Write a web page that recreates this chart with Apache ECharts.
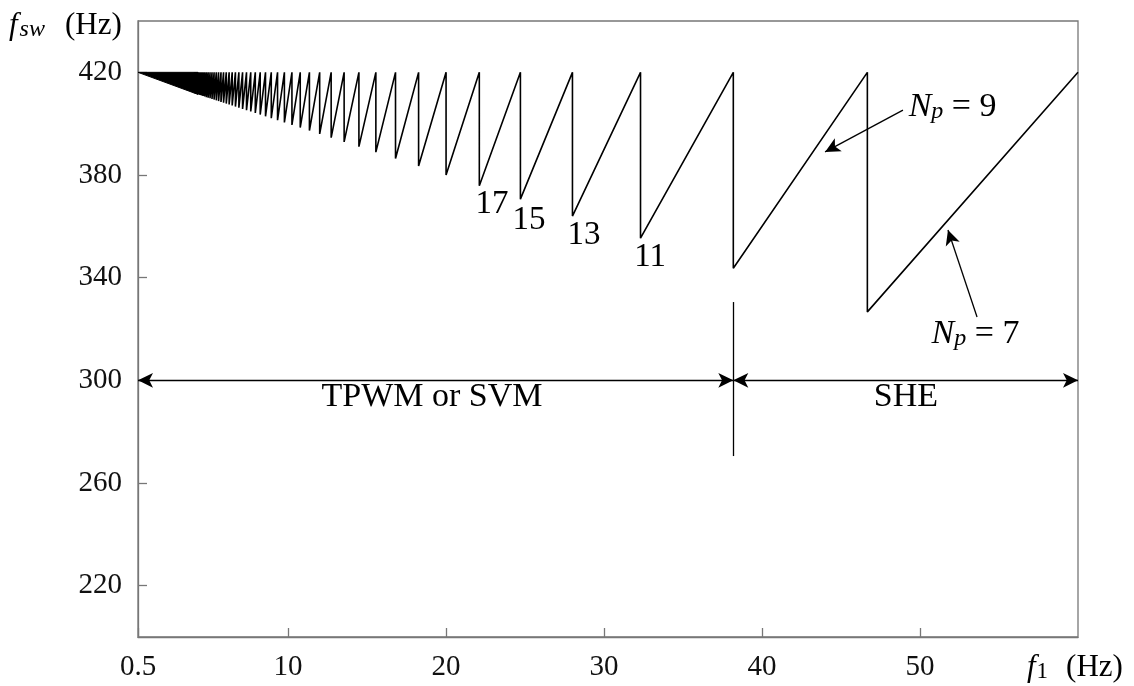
<!DOCTYPE html>
<html><head><meta charset="utf-8">
<script src="https://cdn.jsdelivr.net/npm/echarts@6/dist/echarts.min.js"></script>
<style>html,body{margin:0;padding:0;background:#fff}#c{width:1134px;height:686px}</style>
</head><body><div id="c"></div>
<script>
// ---- data ----
const xTicks = [0.5, 10, 20, 30, 40, 50];
const yTicks = [220, 260, 300, 340, 380, 420];
const fswMax = 420;
// f1 values where the pulse number changes (Np = 101 ... 7)
const switchF1 = [4.078,4.158,4.242,4.330,4.421,4.516,4.615,4.719,4.828,4.941,5.060,5.185,5.316,5.455,5.600,5.753,5.915,6.087,6.269,6.462,6.667,6.885,7.119,7.368,7.636,7.925,8.235,8.571,8.936,9.333,9.767,10.244,10.769,11.351,12.000,12.727,13.548,14.483,15.556,16.800,18.261,20.000,22.105,24.706,28.000,32.308,38.182,46.667,60.000];
// f_sw at the bottom of each tooth
const valleyFsw = [411.84,411.68,411.52,411.34,411.16,410.97,410.77,410.56,410.34,410.12,409.88,409.63,409.37,409.09,408.80,408.49,408.17,407.83,407.46,407.08,406.67,406.23,405.76,405.26,404.73,404.15,403.53,402.86,402.13,401.33,400.47,399.51,398.46,397.30,396.00,394.55,392.90,391.03,388.89,386.40,383.48,380.00,375.79,370.59,364.00,355.38,343.64,326.67];
// dense (unresolved) region at low f1
const denseF1 = [0.5, 4.3, 4.3];
const denseFsw = [420, 420, 411.4];
const toothLabels = ['17', '15', '13', '11'];
const boundaryF1 = 38.182;

// ---- build ----
const saw = [[switchF1[0], fswMax]];
for (let i = 0; i < valleyFsw.length; i++) {
  saw.push([switchF1[i], valleyFsw[i]]);
  saw.push([switchF1[i + 1], fswMax]);
}
const densePts = denseF1.map((x, i) => [x, denseFsw[i]]);

const FONT = 'Liberation Serif';
const AX = '#777';
const chart = echarts.init(document.getElementById('c'), null, {renderer: 'canvas'});

const lblPos = [[22.91, 368.5], [25.25, 362.4], [28.73, 356.6], [32.91, 347.8]];

const npRich = {
  n: {fontFamily: FONT, fontStyle: 'italic', fontSize: 34, color: '#000', lineHeight: 34},
  p: {fontFamily: FONT, fontStyle: 'italic', fontSize: 24, color: '#000', lineHeight: 20, verticalAlign: 'bottom'},
  r: {fontFamily: FONT, fontSize: 34, color: '#000', lineHeight: 34}
};

const titleRich = {
  i: {fontFamily: FONT, fontStyle: 'italic', fontSize: 31, fill: '#000', lineHeight: 32},
  s: {fontFamily: FONT, fontStyle: 'italic', fontSize: 24, fill: '#000', lineHeight: 20, verticalAlign: 'bottom', padding: [0, 0, 0, 2]},
  r: {fontFamily: FONT, fontSize: 31, fill: '#000', lineHeight: 32, padding: [0, 0, 0, 20]}
};
const titleRich1 = Object.assign({}, titleRich, {
  s: {fontFamily: FONT, fontSize: 23, fill: '#000', lineHeight: 20, verticalAlign: 'bottom', padding: [0, 0, 0, 1]},
  r: {fontFamily: FONT, fontSize: 31, fill: '#000', lineHeight: 32, padding: [0, 0, 0, 18]}
});

const option = {
  animation: false,
  grid: {left: 138, right: 56, top: 21, bottom: 49, show: true, borderColor: AX, borderWidth: 1.3, backgroundColor: 'transparent'},
  xAxis: {
    type: 'value', min: 0.5, max: 60,
    axisLine: {lineStyle: {color: AX, width: 1.3}},
    axisTick: {inside: true, length: 9, customValues: xTicks, lineStyle: {color: AX, width: 1.3}},
    axisLabel: {customValues: xTicks, fontFamily: FONT, fontSize: 29, color: '#111', margin: 16,
      formatter: v => (v === 0.5 ? '0.5' : String(v))},
    splitLine: {show: false}
  },
  yAxis: {
    type: 'value', min: 200, max: 440,
    axisLine: {lineStyle: {color: AX, width: 1.3}},
    axisTick: {inside: true, length: 9, customValues: yTicks, lineStyle: {color: AX, width: 1.3}},
    axisLabel: {customValues: yTicks, fontFamily: FONT, fontSize: 29, color: '#111', margin: 16},
    splitLine: {show: false}
  },
  graphic: [
    {type: 'text', left: 9, top: 10, silent: true,
      style: {text: '{i|f}{s|sw}{r|(Hz)}', rich: titleRich}},
    {type: 'text', left: 1027, top: 652, silent: true,
      style: {text: '{i|f}{s|1}{r|(Hz)}', rich: titleRich1}}
  ],
  series: [
    {
      type: 'custom', silent: true, data: [[0.5, 420]],
      renderItem: (params, api) => ({
        type: 'polygon',
        shape: {points: densePts.map(p => api.coord(p))},
        style: {fill: '#000', stroke: '#000', lineWidth: 1}
      })
    },
    {
      type: 'line', data: saw, showSymbol: false, symbol: 'none', silent: true,
      lineStyle: {color: '#000', width: 1.6},
      markLine: {
        silent: true, animation: false,
        label: {show: false},
        lineStyle: {color: '#000', width: 1.3, type: 'solid'},
        symbolSize: [11, 15],
        data: [
          [{coord: [48.92, 405.3], symbol: 'none'}, {coord: [43.99, 389.0], symbol: 'arrow'}],
          [{coord: [53.61, 324.7], symbol: 'none'}, {coord: [51.77, 358.6], symbol: 'arrow'}],
          [{coord: [0.5, 300], symbol: 'arrow'}, {coord: [boundaryF1, 300], symbol: 'arrow'}],
          [{coord: [boundaryF1, 300], symbol: 'arrow'}, {coord: [60, 300], symbol: 'arrow'}],
          [{coord: [boundaryF1, 270.5], symbol: 'none'}, {coord: [boundaryF1, 330.5], symbol: 'none'}]
        ]
      },
      markPoint: {
        silent: true, animation: false,
        symbol: 'circle', symbolSize: 1, itemStyle: {color: 'rgba(0,0,0,0)'},
        label: {show: true, position: 'inside', color: '#000', fontFamily: FONT, fontSize: 33,
          formatter: p => p.name},
        data: [
          ...toothLabels.map((t, i) => ({name: t, coord: lblPos[i]})),
          {name: 'TPWM or SVM', coord: [19.11, 293.5], label: {fontSize: 34}},
          {name: 'SHE', coord: [49.11, 293.5], label: {fontSize: 34}},
          {name: 'np9', coord: [52.06, 406.5], label: {formatter: '{n|N}{p|p}{r| = 9}', rich: npRich}},
          {name: 'np7', coord: [53.51, 318.0], label: {formatter: '{n|N}{p|p}{r| = 7}', rich: npRich}}
        ]
      }
    }
  ]
};
chart.setOption(option);
</script></body></html>
